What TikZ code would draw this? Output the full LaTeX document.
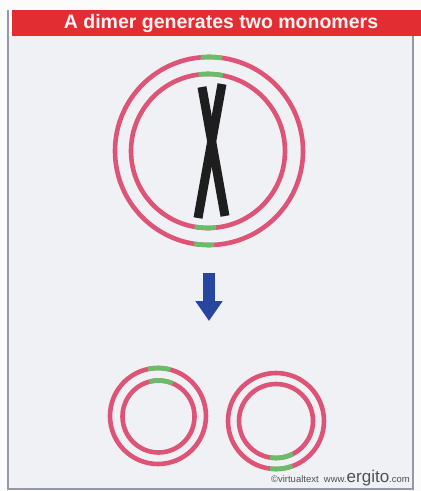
\documentclass[tikz,border=0pt]{standalone}
\usepackage{fontspec}
\setmainfont{Liberation Sans}
\usetikzlibrary{calc,arrows.meta}
\definecolor{titlered}{RGB}{226,45,50}
\definecolor{ringpink}{RGB}{222,84,118}
\definecolor{ringgreen}{RGB}{104,190,104}
\definecolor{panelbg}{RGB}{240,241,244}
\definecolor{framegray}{RGB}{150,152,170}
\definecolor{arrowblue}{RGB}{40,70,160}
\definecolor{chromo}{RGB}{30,30,30}
\definecolor{creditgray}{RGB}{80,80,85}

% a pink circle of DNA
\newcommand\dnaring[2]{\draw[ring] #1 circle[radius=#2];}
% a green segment on a circle: centre, radius, start angle, end angle
\newcommand\dnaseg[4]{\draw[seg] ($#1+(#3:#2)$) arc[start angle=#3, end angle=#4, radius=#2];}

\begin{document}
\begin{tikzpicture}[x=1pt,y=-1pt,
  ring/.style={draw=ringpink,line width=4.6pt},
  seg/.style={draw=ringgreen,line width=4.6pt},
  chromatid/.style={draw=chromo,line width=9pt,line cap=butt},
  bigarrow/.style={draw=arrowblue,line width=12pt,
    -{Triangle[width=26pt,length=20pt]}},
  titletext/.style={font=\bfseries\fontsize{19.5}{19.5}\selectfont,text=white!96!red},
  credit/.style={text=creditgray,inner sep=0pt,anchor=base east}]
\useasboundingbox (0,0) rectangle (421,491);
\fill[white!97!gray] (0,0) rectangle (421,491);

% panel and title bar
\fill[panelbg] (8,36) rectangle (413,489);
\draw[framegray,line width=1.2pt] (8,10) -- (8,489) -- (413,489) -- (413,36);
\fill[titlered] (12,10) rectangle (421,36);
\node[titletext] (title) at (221,23) {A dimer generates two monomers};

% dimer: two interlocked rings
\dnaring{(209,151)}{94}
\dnaring{(208,151)}{77}
\dnaseg{(209,151)}{94}{265}{278}
\dnaseg{(208,151)}{77}{263}{281}
\dnaseg{(209,151)}{94}{87}{99}
\dnaseg{(208,151)}{77}{84}{100}

% crossed chromatids
\draw[chromatid] (202,87) -- (225,216);
\draw[chromatid] (222,84) -- (198,218);

% arrow
\coordinate (arrowtop) at (209,273);
\coordinate (arrowtip) at (209,321);
\draw[bigarrow] (arrowtop) -- (arrowtip);

% two monomers
\dnaring{(158,416)}{48}
\dnaring{(158.5,416.5)}{36}
\dnaseg{(158,416)}{48}{258}{285}
\dnaseg{(158.5,416.5)}{36}{255}{293}

\dnaring{(276,421)}{48}
\dnaring{(276,421)}{37}
\dnaseg{(276,421)}{48}{70}{97}
\dnaseg{(276,421)}{37}{63}{99}

% credit line
\node[credit] (credit) at (410,482)
  {{\fontsize{9.5}{9.5}\selectfont \textcopyright virtualtext\ \ www.}{\fontsize{17}{17}\selectfont ergito}{\fontsize{9.5}{9.5}\selectfont .com}};
\end{tikzpicture}
\end{document}
